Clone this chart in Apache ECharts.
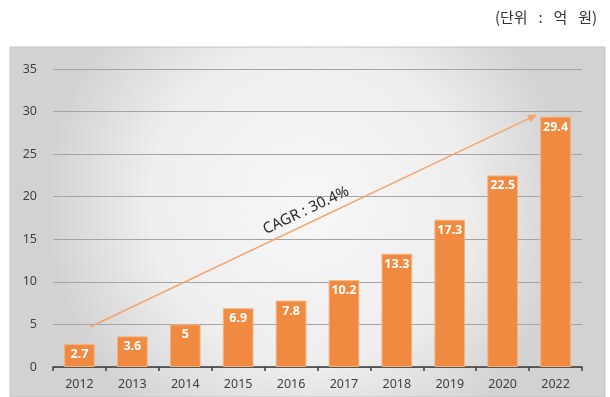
<!DOCTYPE html>
<html>
<head>
<meta charset="utf-8">
<script src="https://cdn.jsdelivr.net/npm/echarts@6/dist/echarts.min.js"></script>
<style>
  html, body { margin: 0; padding: 0; background: #ffffff; }
  #chart { width: 610px; height: 397px; }
</style>
</head>
<body>
<div id="chart"></div>
<script>
// Yearly market size (unit: 100 million KRW)
const years = ['2012', '2013', '2014', '2015', '2016', '2017', '2018', '2019', '2020', '2022'];
const sales = [2.7, 3.6, 5, 6.9, 7.8, 10.2, 13.3, 17.3, 22.5, 29.4];
const yTicks = { min: 0, max: 35, step: 5 };
// CAGR trend arrow, in [category position, value] pairs
const trendStart = [0.2, 4.7];
const trendEnd = [8.57, 29.4];
const trendText = 'CAGR : 30.4%';
const unitText = '(단위\u2002 :\u2002 억\u2002 원)';

const chart = echarts.init(document.getElementById('chart'), null, { renderer: 'canvas' });

const font = '"Noto Sans", "Liberation Sans", sans-serif';

chart.setOption({
  animation: false,
  graphic: [
    {
      type: 'rect',
      z: -10,
      shape: { x: 10, y: 47, width: 595, height: 350 },
      style: {
        fill: new echarts.graphic.RadialGradient(0.5, 0.45, 0.75, [
          { offset: 0, color: '#f7f7f7' },
          { offset: 0.6, color: '#eeeeee' },
          { offset: 1, color: '#d2d2d2' }
        ]),
        stroke: '#c4c4c4',
        lineWidth: 1
      }
    },
    {
      type: 'text',
      right: 13,
      top: 10,
      style: {
        text: unitText,
        font: '15px "Noto Sans CJK KR", sans-serif',
        fill: '#333333'
      }
    }
  ],
  grid: { left: 53, right: 28, top: 69, bottom: 30, containLabel: false },
  xAxis: [
    {
      type: 'category',
      data: years,
      axisLine: { lineStyle: { color: '#3a3a3a', width: 1.5 } },
      axisTick: { show: true, length: 4, inside: false, lineStyle: { color: '#3a3a3a', width: 1.5 } },
      axisLabel: { color: '#404040', fontSize: 12.5, fontFamily: font, margin: 11 }
    },
    {
      type: 'value',
      min: -0.5,
      max: years.length - 0.5,
      show: false
    }
  ],
  yAxis: {
    type: 'value',
    min: yTicks.min,
    max: yTicks.max,
    interval: yTicks.step,
    axisLine: { show: false },
    axisTick: { show: false },
    axisLabel: { color: '#404040', fontSize: 12.5, fontFamily: font, margin: 16 },
    splitLine: { lineStyle: { color: '#a4a4a4', width: 1 } }
  },
  series: [
    {
      type: 'bar',
      data: sales,
      barWidth: '58%',
      itemStyle: {
        color: '#f08a40',
        borderColor: '#f6b27e',
        borderWidth: 1
      },
      label: {
        show: true,
        position: 'insideTop',
        distance: 4,
        color: '#ffffff',
        fontWeight: 'bold',
        fontSize: 12.5,
        fontFamily: font
      }
    },
    {
      type: 'line',
      xAxisIndex: 1,
      data: [],
      markLine: {
        silent: true,
        symbol: ['none', 'triangle'],
        symbolSize: [8, 9],
        lineStyle: { color: '#f3a56c', width: 1.5, type: 'solid' },
        label: {
          show: true,
          position: 'insideMiddleTop',
          distance: 5,
          formatter: trendText,
          color: '#2a2a2a',
          fontSize: 15,
          fontFamily: font
        },
        data: [[{ coord: trendStart }, { coord: trendEnd }]]
      }
    }
  ]
});
</script>
</body>
</html>
